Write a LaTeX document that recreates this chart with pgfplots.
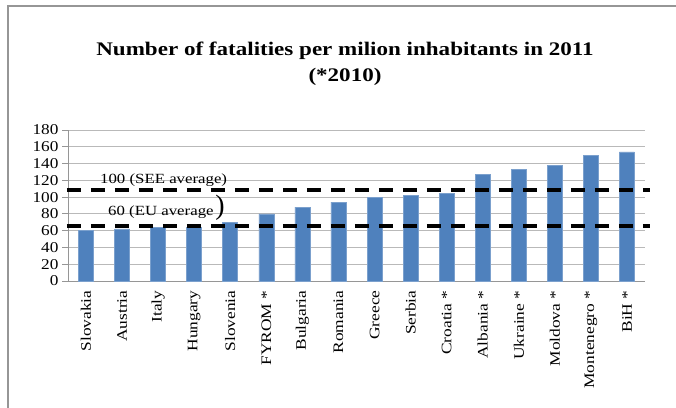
\documentclass[border=0pt]{standalone}
\usepackage{pgfplots}
\pgfplotsset{compat=1.18}
\usepackage{fontspec}
\setmainfont{Liberation Serif}
\newfontfamily\wide[FakeStretch=1.2]{Liberation Serif}
\newfontfamily\widey[FakeStretch=1.15]{Liberation Serif}
\definecolor{barblue}{RGB}{79,129,189}
\definecolor{gridgray}{RGB}{185,185,185}
\definecolor{axgray}{RGB}{150,150,150}
\begin{document}
\begin{tikzpicture}[x=1pt,y=1pt]
\useasboundingbox (0,0) rectangle (676,407);
\draw[color=axgray, line width=1.5pt] (8,-5) -- (8,401) -- (690,401);
\node[align=center, font=\wide\bfseries\fontsize{19.2}{26}\selectfont] at (345,343) {Number of fatalities per milion inhabitants in 2011\\(*2010)};
\begin{axis}[
  at={(68pt,126pt)}, anchor=south west,
  scale only axis, width=577pt, height=151pt,
  clip=false,
  xmin=-0.5, xmax=15.5, ymin=0, ymax=180,
  ytick={0,20,...,180},
  ymajorgrids, grid style={gridgray, line width=0.8pt},
  axis x line*=bottom, axis y line*=left,
  axis line style={axgray, line width=0.9pt},
  tick style={axgray, line width=0.8pt},
  tick align=outside,
  xtick={0,...,15},
  major x tick style={draw=none},
  xticklabels={Slovakia,Austria,Italy,Hungary,Slovenia,FYROM *,Bulgaria,Romania,Greece,Serbia,Croatia *,Albania *,Ukraine *,Moldova *,Montenegro *,BiH *},
  x tick label style={rotate=90, anchor=east, font=\wide\fontsize{14.5}{16}\selectfont},
  y tick label style={font=\widey\fontsize{15}{16}\selectfont},
  /pgf/number format/assume math mode=true,
  extra x ticks={-0.5,0.5,...,15.5},
  extra x tick labels={},
  extra x tick style={major tick length=4pt, tick style={axgray, line width=0.8pt}, grid=none},
  major tick length=6pt,
]
\addplot[ybar, bar width=15pt, fill=barblue, draw=barblue!75!white, line width=0.6pt] coordinates {
(0,60) (1,62) (2,63.5) (3,64) (4,69.5) (5,80) (6,88) (7,94) (8,100) (9,102) (10,104.5) (11,127.5) (12,133.5) (13,138) (14,150) (15,154)
};
\addplot[black, line width=3.2pt, dash pattern=on 14pt off 10pt] coordinates {(-0.53,108.5) (15.64,108.5)};
\addplot[black, line width=3.2pt, dash pattern=on 14pt off 10pt] coordinates {(-0.53,65.5) (15.64,65.5)};
\node[anchor=base west, inner sep=0pt, font=\wide\fontsize{14}{16}\selectfont] at (axis cs:0.387,116.8) {100 (SEE average)};
\node[anchor=base west, inner sep=0pt, font=\wide\fontsize{14}{16}\selectfont] at (axis cs:0.609,77.5) {60 (EU average};
\node[inner sep=0pt, font=\fontsize{28}{30}\selectfont] at (axis cs:3.715,87) {)};
\end{axis}
\end{tikzpicture}
\end{document}
